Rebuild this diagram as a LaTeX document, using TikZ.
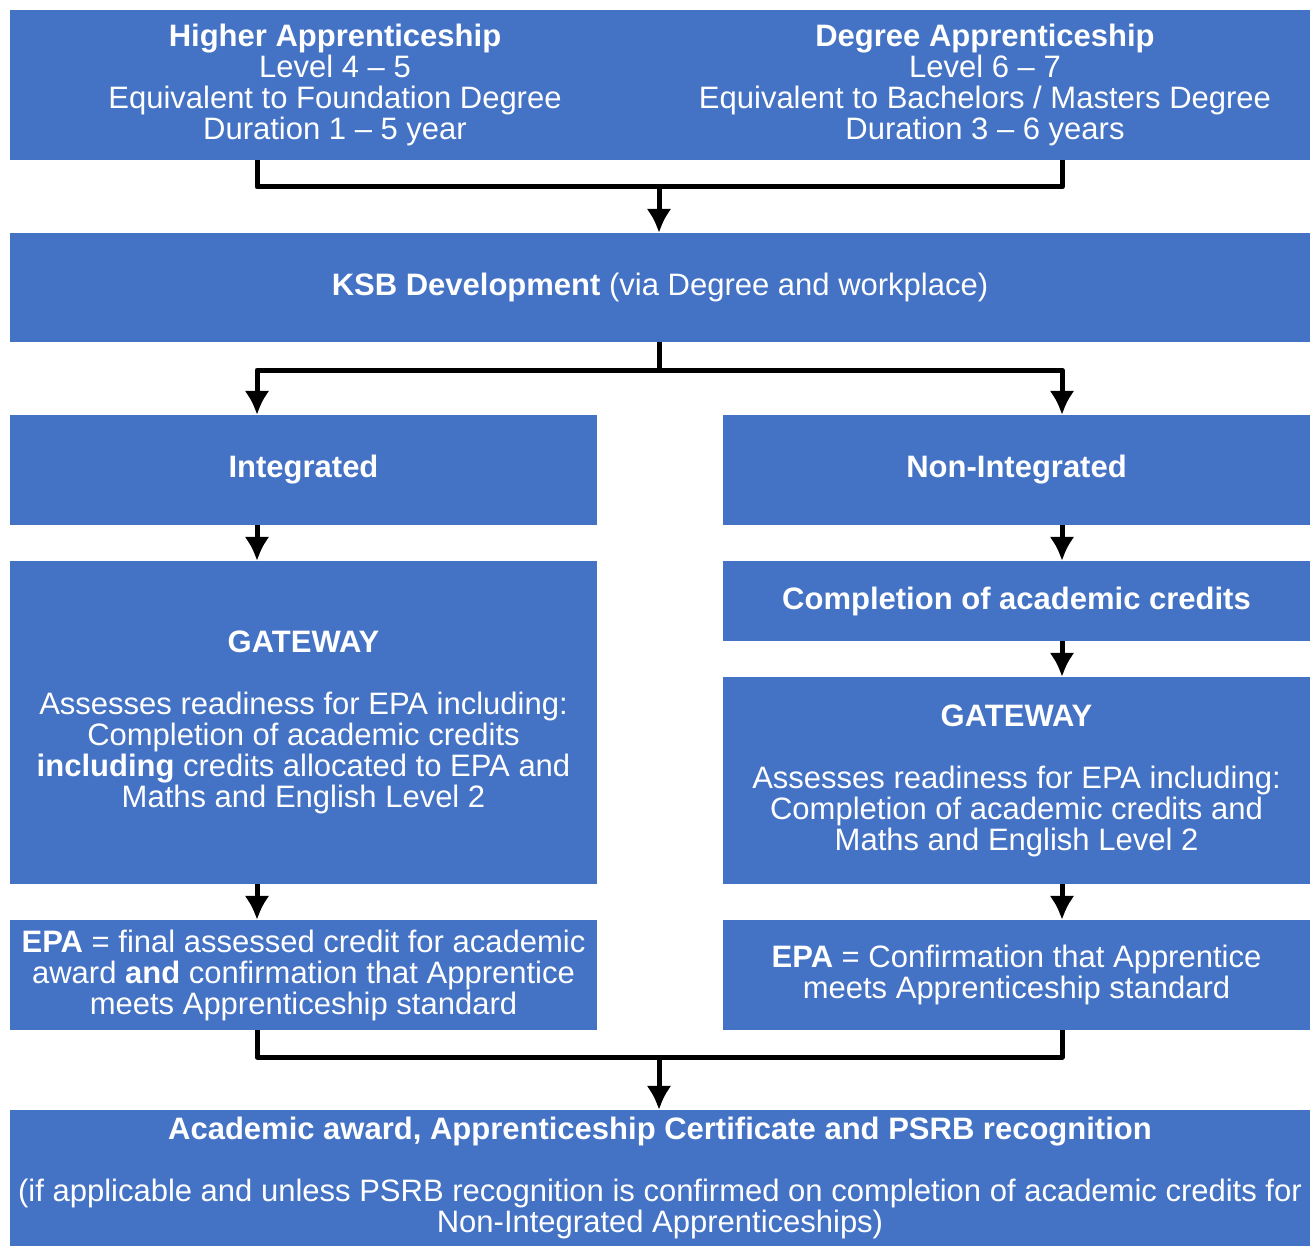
\documentclass[tikz,border=0pt]{standalone}
\usepackage{fontspec}
\setmainfont{Liberation Sans}
\usetikzlibrary{arrows.meta}
\definecolor{boxblue}{HTML}{4472C4}
\tikzset{
  box/.style={fill=boxblue, text=white, align=center, inner sep=0pt,
    font=\fontsize{31}{31}\selectfont},
  link/.style={line width=5pt, line join=round}
}
\begin{document}
\begin{tikzpicture}[>={Latex[length=24pt,width=25pt]}, x=1pt, y=-1pt]
\useasboundingbox (0,0) rectangle (1316,1246);
\node[box, minimum width=650pt, minimum height=150pt] (higher) at (335,85)
  {\textbf{Higher Apprenticeship}\\Level 4 – 5\\Equivalent to Foundation Degree\\Duration 1 – 5 year};
\node[box, minimum width=650pt, minimum height=150pt] (degree) at (985,85)
  {\textbf{Degree Apprenticeship}\\Level 6 – 7\\Equivalent to Bachelors / Masters Degree\\Duration 3 – 6 years};
\node[box, minimum width=1300pt, minimum height=109pt] (ksb) at (660,287.5)
  {\textbf{KSB Development} (via Degree and workplace)};
\node[box, minimum width=587pt, minimum height=110pt] (int) at (303.5,470) {\textbf{Integrated}};
\node[box, minimum width=587pt, minimum height=110pt] (nonint) at (1016.5,470) {\textbf{Non-Integrated}};
\node[box, minimum width=587pt, minimum height=323pt] (gwl) at (303.5,722.5)
  {\textbf{GATEWAY}\\[31pt]Assesses readiness for EPA including:\\Completion of academic credits\\
   \textbf{including} credits allocated to EPA and\\Maths and English Level 2};
\node[box, minimum width=587pt, minimum height=80pt] (comp) at (1016.5,601)
  {\textbf{Completion of academic credits}};
\node[box, minimum width=587pt, minimum height=207pt] (gwr) at (1016.5,780.5)
  {\textbf{GATEWAY}\\[31pt]Assesses readiness for EPA including:\\Completion of academic credits and\\Maths and English Level 2};
\node[box, minimum width=587pt, minimum height=110pt] (epal) at (303.5,975)
  {\textbf{EPA} = final assessed credit for academic\\award \textbf{and} confirmation that Apprentice\\meets Apprenticeship standard};
\node[box, minimum width=587pt, minimum height=110pt] (epar) at (1016.5,975)
  {\textbf{EPA} = Confirmation that Apprentice\\meets Apprenticeship standard};
\node[box, minimum width=1300pt, minimum height=136pt] (award) at (660,1178)
  {\textbf{Academic award, Apprenticeship Certificate and PSRB recognition}\\[31pt]
   (if applicable and unless PSRB recognition is confirmed on completion of academic credits for\\Non-Integrated Apprenticeships)};
\coordinate (lx) at (257,0);
\coordinate (rx) at (1062,0);
\coordinate (top) at (659,187);
\coordinate (mid) at (659,370);
\coordinate (low) at (659,1057);
\draw[link] (higher.south -| lx) |- (top) -| (degree.south -| rx);
\draw[link,->] (top) -- (ksb.north -| top);
\draw[link] (ksb.south -| mid) -- (mid);
\draw[link,->] (mid) -| (int.north -| lx);
\draw[link,->] (mid) -| (nonint.north -| rx);
\foreach \a/\b/\c in {int/gwl/lx, nonint/comp/rx, comp/gwr/rx, gwl/epal/lx, gwr/epar/rx}
{
    \draw[link,->] (\a.south -| \c) -- (\b.north -| \c);
}
\draw[link] (epal.south -| lx) |- (low) -| (epar.south -| rx);
\draw[link,->] (low) -- (award.north -| low);
\end{tikzpicture}
\end{document}
